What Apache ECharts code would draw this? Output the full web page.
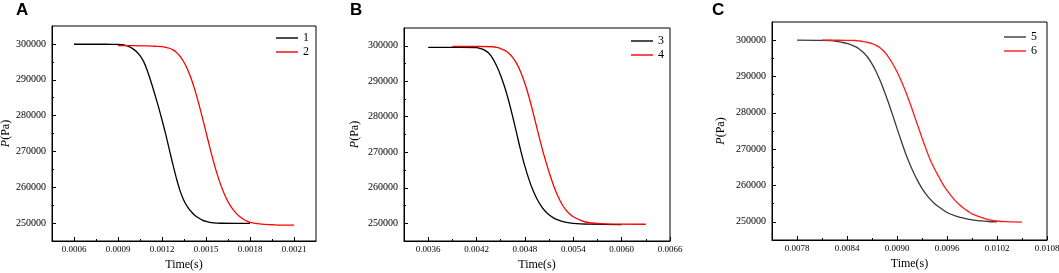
<!DOCTYPE html>
<html>
<head>
<meta charset="utf-8">
<script src="https://cdn.jsdelivr.net/npm/echarts@6/dist/echarts.min.js"></script>
<style>
  html, body { margin: 0; padding: 0; background: #fff; }
  #chart { width: 1059px; height: 273px; }
</style>
</head>
<body>
<div id="chart"></div>
<script>
// panel A
const timeA1 = [0.0006, 0.0007, 0.0008, 0.00085, 0.0009, 0.000925, 0.00095, 0.000975, 0.001, 0.001025, 0.00105, 0.001075, 0.0011, 0.001125, 0.00115, 0.001175, 0.0012, 0.001225, 0.00125, 0.001275, 0.0013, 0.001325, 0.00135, 0.001375, 0.0014, 0.001425, 0.00145, 0.001475, 0.0015, 0.001525, 0.00155, 0.0016, 0.0017, 0.0018];
const presA1 = [299907, 299907, 299907, 299900, 299888, 299767, 299580, 299254, 298694, 297901, 296735, 295056, 292538, 289459, 286101, 282557, 278826, 274814, 270524, 266233, 262222, 258770, 256252, 254479, 253173, 252147, 251400, 250840, 250467, 250187, 250047, 249953, 249907, 249907];
const timeA2 = [0.0009, 0.001, 0.0011, 0.00115, 0.0012, 0.001225, 0.00125, 0.001275, 0.0013, 0.001325, 0.00135, 0.001375, 0.0014, 0.001425, 0.00145, 0.001475, 0.0015, 0.001525, 0.00155, 0.001575, 0.0016, 0.001625, 0.00165, 0.001675, 0.0017, 0.001725, 0.00175, 0.001775, 0.0018, 0.00185, 0.0019, 0.00195, 0.002, 0.0021];
const presA2 = [299534, 299534, 299440, 299347, 299254, 299067, 298787, 298321, 297575, 296455, 294869, 292817, 290205, 287034, 283396, 279478, 275373, 271269, 267351, 263806, 260728, 258116, 255970, 254291, 252985, 251959, 251213, 250653, 250187, 249860, 249627, 249534, 249440, 249440];

// panel B
const timeB3 = [0.0036, 0.0038, 0.004, 0.0042, 0.00425, 0.0043, 0.00435, 0.0044, 0.00445, 0.0045, 0.00455, 0.0046, 0.00465, 0.0047, 0.00475, 0.0048, 0.00485, 0.0049, 0.00495, 0.005, 0.00505, 0.0051, 0.00515, 0.0052, 0.0053, 0.0054, 0.0056, 0.006];
const presB3 = [299532, 299532, 299532, 299485, 299204, 298783, 297940, 296442, 294289, 291573, 288296, 284364, 279870, 275094, 270319, 266012, 262361, 259271, 256837, 254917, 253466, 252389, 251593, 251031, 250329, 249955, 249740, 249625];
const timeB4 = [0.0039, 0.0042, 0.0044, 0.00445, 0.0045, 0.00455, 0.0046, 0.00465, 0.0047, 0.00475, 0.0048, 0.00485, 0.0049, 0.00495, 0.005, 0.00505, 0.0051, 0.00515, 0.0052, 0.00525, 0.0053, 0.00535, 0.0054, 0.0055, 0.0056, 0.0058, 0.0063];
const presB4 = [299813, 299813, 299719, 299532, 299204, 298689, 297893, 296676, 294897, 292463, 289373, 285628, 281321, 276733, 272239, 268119, 264374, 261003, 258101, 255760, 253981, 252764, 251827, 250751, 250142, 249813, 249719];

// panel C
const timeC5 = [0.0078, 0.0082, 0.00825, 0.0083, 0.00835, 0.0084, 0.00845, 0.0085, 0.00855, 0.0086, 0.00865, 0.0087, 0.00875, 0.0088, 0.00885, 0.0089, 0.00895, 0.009, 0.00905, 0.0091, 0.00915, 0.0092, 0.00925, 0.0093, 0.00935, 0.0094, 0.00945, 0.0095, 0.0096, 0.0097, 0.0098, 0.0099, 0.01, 0.0101, 0.0102];
const presC5 = [300000, 299908, 299771, 299587, 299358, 299083, 298716, 298211, 297523, 296560, 295230, 293487, 291331, 288762, 285826, 282615, 279221, 275734, 272295, 269038, 266102, 263488, 261194, 259222, 257570, 256194, 255047, 254130, 252570, 251653, 251010, 250552, 250275, 250092, 250000];
const timeC6 = [0.0081, 0.0084, 0.0085, 0.00855, 0.0086, 0.00865, 0.0087, 0.00875, 0.0088, 0.00885, 0.0089, 0.00895, 0.009, 0.00905, 0.0091, 0.00915, 0.0092, 0.00925, 0.0093, 0.00935, 0.0094, 0.00945, 0.0095, 0.00955, 0.0096, 0.00965, 0.0097, 0.00975, 0.0098, 0.00985, 0.0099, 0.01, 0.0101, 0.0102, 0.0103, 0.0105];
const presC6 = [300000, 299954, 299908, 299771, 299587, 299358, 299037, 298578, 297844, 296743, 295275, 293441, 291285, 288808, 286056, 283028, 279771, 276423, 273120, 269955, 267019, 264588, 262478, 260368, 258625, 257157, 255827, 254680, 253763, 252937, 252203, 251286, 250598, 250229, 250046, 249908];

// ticks
const ticksXA = [0.0006, 0.0009, 0.0012, 0.0015, 0.0018, 0.0021];
const ticksXB = [0.0036, 0.0042, 0.0048, 0.0054, 0.0060, 0.0066];
const ticksXC = [0.0078, 0.0084, 0.0090, 0.0096, 0.0102, 0.0108];
const ticksY = [250000, 260000, 270000, 280000, 290000, 300000];

const serif = 'Liberation Serif';
const zip = (t, p) => t.map((v, i) => [v, p[i]]);
const mids = (arr) => arr.slice(1).map((v, i) => (v + arr[i]) / 2);

const panels = [
  { letter: 'A', left: 52, right: 743, top: 26, bottom: 32, xMin: 0.00045, xMax: 0.00225, xTicks: ticksXA, yGap: 40,
    names: ['1', '2'], colors: ['#000000', '#ff0000'], data: [zip(timeA1, presA1), zip(timeA2, presA2)],
    titleLeft: 16, legendLeft: 276, legendTop: 31 },
  { letter: 'B', left: 404, right: 389, top: 28, bottom: 32, xMin: 0.0033, xMax: 0.0066, xTicks: ticksXB, yGap: 43,
    names: ['3', '4'], colors: ['#000000', '#ff0000'], data: [zip(timeB3, presB3), zip(timeB4, presB4)],
    titleLeft: 350, legendLeft: 631, legendTop: 34 },
  { letter: 'C', left: 772, right: 12, top: 22, bottom: 33, xMin: 0.0075, xMax: 0.0108, xTicks: ticksXC, yGap: 45,
    names: ['5', '6'], colors: ['#3a3a3a', '#ff1a1a'], data: [zip(timeC5, presC5), zip(timeC6, presC6)],
    titleLeft: 712, legendLeft: 1004, legendTop: 30 },
];

const option = {
  animation: false,
  backgroundColor: '#fff',
  title: [], grid: [], xAxis: [], yAxis: [], legend: [], series: [],
};

panels.forEach((p, i) => {
  option.title.push({
    text: p.letter, left: p.titleLeft, top: 2, padding: 0,
    textStyle: { fontFamily: 'Liberation Sans', fontWeight: 'bold', fontSize: 17, color: '#000' },
  });
  option.grid.push({
    left: p.left, right: p.right, top: p.top, bottom: p.bottom,
    outerBoundsMode: 'none', containLabel: false,
    show: true, borderColor: '#000', borderWidth: 1, backgroundColor: 'transparent',
  });
  const xBase = { type: 'value', gridIndex: i, min: p.xMin, max: p.xMax, position: 'bottom', splitLine: { show: false } };
  const yBase = { type: 'value', gridIndex: i, min: 245000, max: 305000, position: 'left', splitLine: { show: false } };
  // major x axis
  option.xAxis.push(Object.assign({}, xBase, {
    name: 'Time(s)', nameLocation: 'middle', nameGap: 17,
    nameTextStyle: { fontFamily: serif, fontSize: 12, color: '#000' },
    axisLine: { onZero: false, lineStyle: { color: '#000', width: 1 } },
    axisTick: { inside: true, length: 4, customValues: p.xTicks, lineStyle: { color: '#000' } },
    axisLabel: { customValues: p.xTicks, margin: 4, fontFamily: serif, fontSize: 9, color: '#000',
      formatter: (v) => v.toFixed(4) },
  }));
  // minor x ticks
  option.xAxis.push(Object.assign({}, xBase, {
    axisLine: { show: false, onZero: false },
    axisTick: { inside: true, length: 2, customValues: mids(p.xTicks), lineStyle: { color: '#000' } },
    axisLabel: { show: false },
  }));
  option.yAxis.push(Object.assign({}, yBase, {
    name: '{i|P}(Pa)', nameLocation: 'middle', nameGap: p.yGap, nameRotate: 90,
    nameTextStyle: { fontFamily: serif, fontSize: 12, color: '#000',
      rich: { i: { fontFamily: serif, fontSize: 12, fontStyle: 'italic', color: '#000' } } },
    axisLine: { onZero: false, lineStyle: { color: '#000', width: 1 } },
    axisTick: { inside: true, length: 4, customValues: ticksY, lineStyle: { color: '#000' } },
    axisLabel: { customValues: ticksY, margin: 6, fontFamily: serif, fontSize: 10, color: '#000',
      formatter: (v) => String(v) },
  }));
  option.yAxis.push(Object.assign({}, yBase, {
    axisLine: { show: false, onZero: false },
    axisTick: { inside: true, length: 2, customValues: mids(ticksY), lineStyle: { color: '#000' } },
    axisLabel: { show: false },
  }));
  option.legend.push({
    data: p.names, orient: 'vertical', left: p.legendLeft, top: p.legendTop,
    icon: 'rect', itemWidth: 22, itemHeight: 1.4, itemGap: 0, padding: 0,
    textStyle: { fontFamily: serif, fontSize: 12, color: '#000', lineHeight: 14 },
  });
  p.names.forEach((n, k) => {
    option.series.push({
      name: n, type: 'line', xAxisIndex: i * 2, yAxisIndex: i * 2,
      data: p.data[k], symbol: 'none', smooth: 0.3,
      lineStyle: { color: p.colors[k], width: 1.3 }, itemStyle: { color: p.colors[k] },
    });
  });
});

const myChart = echarts.init(document.getElementById('chart'), null, { renderer: 'canvas' });
option && myChart.setOption(option);
</script>
</body>
</html>
